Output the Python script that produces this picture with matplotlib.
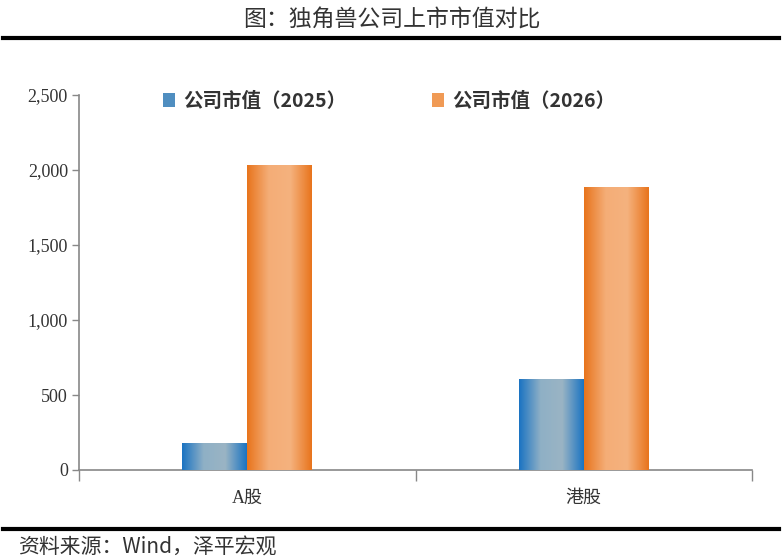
import matplotlib
matplotlib.use("Agg")
import matplotlib.pyplot as plt
import numpy as np
from matplotlib.colors import LinearSegmentedColormap
from matplotlib.patches import Rectangle
from matplotlib.ticker import FuncFormatter

categories = ["A股", "港股"]
series_names = ["公司市值（2025）", "公司市值（2026）"]
values_2025 = [180, 605]
values_2026 = [2033, 1887]
yticks = [0, 500, 1000, 1500, 2000, 2500]

title = "图：独角兽公司上市市值对比"
source = "资料来源：Wind，泽平宏观"

cjk = ["Noto Sans CJK SC", "DejaVu Sans"]
serif = ["Liberation Serif", "Noto Sans CJK SC"]

fig = plt.figure(figsize=(7.84, 5.6), dpi=100)
ax = fig.add_axes([79/784, 1-470/560, (752-79)/784, (470-95)/560])

blue_cmap = LinearSegmentedColormap.from_list("b", ["#1a73c2", "#8fb0c6", "#9ab4c4", "#1a73c2"])
orange_cmap = LinearSegmentedColormap.from_list("o", ["#e8741c", "#f4ad77", "#f5b27e", "#e8741c"])

x = np.arange(len(categories))
w = 0.193
b1 = ax.bar(x - w/2, values_2025, w, color="#5a93c0", zorder=2)
b2 = ax.bar(x + w/2, values_2026, w, color="#ee8f45", zorder=2)

grad = np.linspace(0, 1, 256).reshape(1, -1)
for bars, cmap in ((b1, blue_cmap), (b2, orange_cmap)):
    for p in bars:
        x0, y0 = p.get_x(), p.get_y()
        im = ax.imshow(grad, cmap=cmap, aspect="auto", zorder=3,
                       extent=[x0, x0 + p.get_width(), y0, y0 + p.get_height()])
        im.set_clip_path(p)

ax.set_xlim(-0.5, 1.5)
ax.set_ylim(0, 2500)
ax.set_yticks(yticks)
ax.yaxis.set_major_formatter(FuncFormatter(lambda v, _: f"{int(v):,}"))
ax.set_xticks([-0.5, 0.5, 1.5])
ax.set_xticklabels([])
ax.set_xticks(x, minor=True)
ax.set_xticklabels(categories, minor=True, fontfamily=serif, fontsize=13, color="#333333")
ax.tick_params(axis="x", which="major", length=8, width=1, color="#888888", direction="out")
ax.tick_params(axis="x", which="minor", length=0, pad=14)
ax.tick_params(axis="y", length=5, width=1, color="#888888", direction="out",
               labelsize=13, labelcolor="#333333", pad=3)
for lab in ax.get_yticklabels():
    lab.set_fontfamily(serif)
for s in ("top", "right"):
    ax.spines[s].set_visible(False)
for s in ("left", "bottom"):
    ax.spines[s].set_color("#888888")
    ax.spines[s].set_linewidth(1.2)

# legend
handles = [Rectangle((0, 0), 1, 1, facecolor="#4f8ec0", edgecolor="none"),
           Rectangle((0, 0), 1, 1, facecolor="#f09a55", edgecolor="none")]
leg = fig.legend(handles, series_names, loc="center left", bbox_to_anchor=(145/784, 1-101/560),
                 ncol=2, frameon=False, prop={"family": cjk, "size": 14, "weight": "bold"},
                 handlelength=0.65, handleheight=0.75, handletextpad=0.4, columnspacing=4.4)
for t in leg.get_texts():
    t.set_color("#333333")

# title and lines
fig.text(0.5, 1-20/560, title, ha="center", va="center", fontsize=16.5, family=cjk,
         weight="light", color="#333333")
fig.add_artist(plt.Line2D([3/784, 779/784], [1-38/560, 1-38/560], color="black", lw=3))
fig.add_artist(plt.Line2D([3/784, 779/784], [1-529/560, 1-529/560], color="black", lw=3))
fig.text(18/784, 1-548/560, source, ha="left", va="center", fontsize=15, family=cjk,
         style="italic", color="#333333")

fig.savefig("out.png", dpi=100)
